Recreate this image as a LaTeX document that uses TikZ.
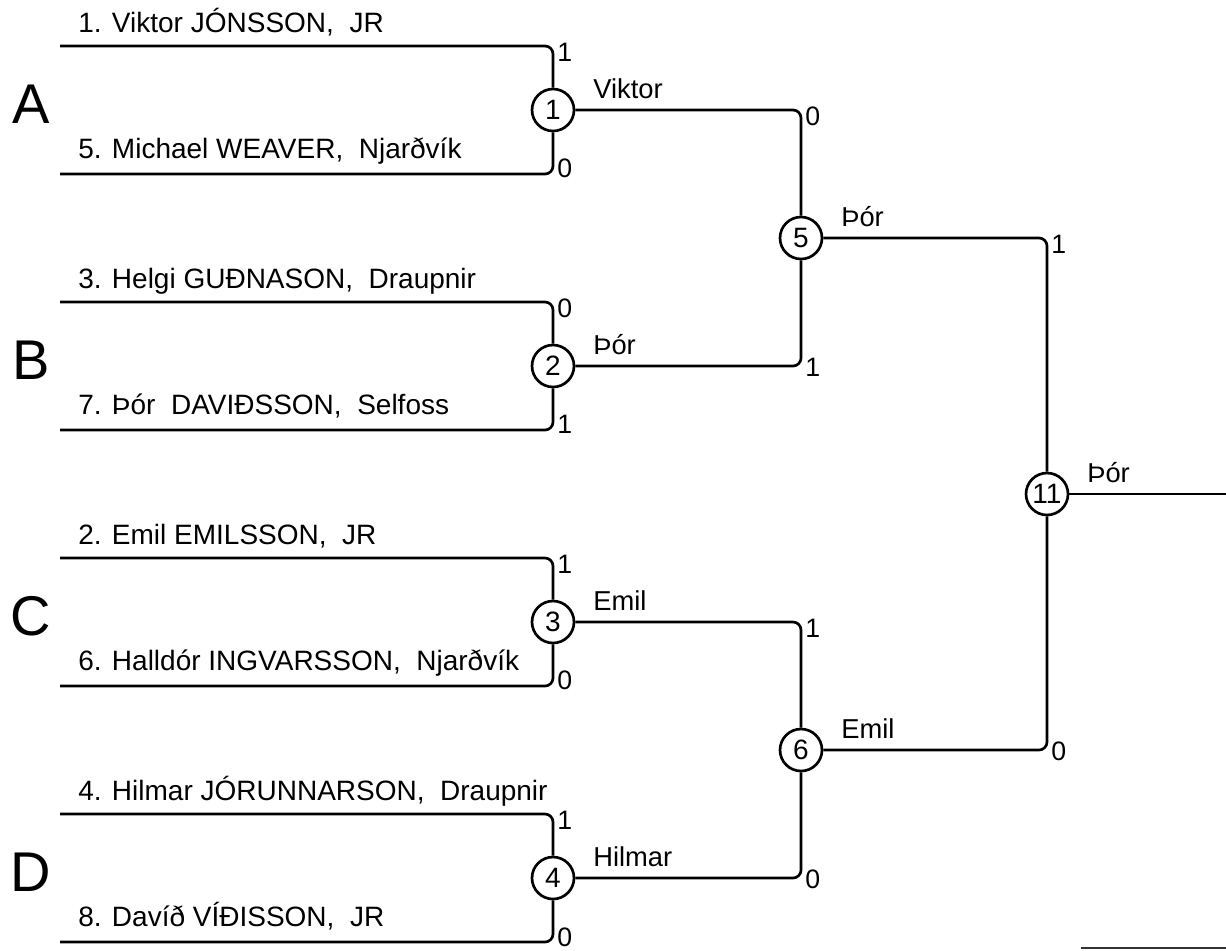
\documentclass[tikz,border=0pt]{standalone}
\usepackage{fontspec}
\setmainfont{Liberation Sans}
\begin{document}
\begin{tikzpicture}[x=0.75pt,y=-0.75pt,
  ln/.style={line width=2pt, rounded corners=6pt},
  mt/.style={circle, draw, line width=2pt, minimum size=31.5pt, inner sep=0pt, fill=white, font=\fontsize{21}{21}\selectfont},
  nm/.style={anchor=base west, inner sep=0pt, font=\fontsize{21}{21}\selectfont},
  sc/.style={anchor=west, inner sep=0pt, font=\fontsize{20}{20}\selectfont},
  wn/.style={anchor=base west, inner sep=0pt, font=\fontsize{20.5}{20.5}\selectfont},
  grp/.style={anchor=center, inner sep=0pt, font=\fontsize{42}{42}\selectfont}]
\useasboundingbox (0,0) rectangle (1226,950);
% match circles
\node[mt] (m1) at (553,110) {1};
\node[mt] (m2) at (553,366) {2};
\node[mt] (m3) at (553,622) {3};
\node[mt] (m4) at (553,878) {4};
\node[mt] (m5) at (801,238) {5};
\node[mt] (m6) at (801,750) {6};
\node[mt] (m11) at (1047,494) {11};
% line starts
\coordinate (s1t) at (60,46);  \coordinate (s1b) at (60,174);
\coordinate (s2t) at (60,302); \coordinate (s2b) at (60,430);
\coordinate (s3t) at (60,558); \coordinate (s3b) at (60,686);
\coordinate (s4t) at (60,814); \coordinate (s4b) at (60,942);
\coordinate (fin) at (1226,494);
% connectors
\draw[ln] (s1t) -| (m1); \draw[ln] (s1b) -| (m1);
\draw[ln] (s2t) -| (m2); \draw[ln] (s2b) -| (m2);
\draw[ln] (s3t) -| (m3); \draw[ln] (s3b) -| (m3);
\draw[ln] (s4t) -| (m4); \draw[ln] (s4b) -| (m4);
\draw[ln] (m1) -| (m5); \draw[ln] (m2) -| (m5);
\draw[ln] (m3) -| (m6); \draw[ln] (m4) -| (m6);
\draw[ln] (m5) -| (m11); \draw[ln] (m6) -| (m11);
\draw[ln] (m11) -- (fin);
% group letters
\node[grp] (gA) at (31,104) {A};
\node[grp] (gB) at (31,360) {B};
\node[grp] (gC) at (31,616) {C};
\node[grp] (gD) at (31,872) {D};
% names
\node[nm] (n1) at (78,32) {1. Viktor JÓNSSON,~ JR};
\node[nm] (n5) at (78,158) {5. Michael WEAVER,~ Njarðvík};
\node[nm] (n3) at (78,288) {3. Helgi GUÐNASON,~ Draupnir};
\node[nm] (n7) at (78,414) {7. Þór~ DAVIÐSSON,~ Selfoss};
\node[nm] (n2) at (78,544) {2. Emil EMILSSON,~ JR};
\node[nm] (n6) at (78,670) {6. Halldór INGVARSSON,~ Njarðvík};
\node[nm] (n4) at (78,800) {4. Hilmar JÓRUNNARSON,~ Draupnir};
\node[nm] (n8) at (78,926) {8. Davíð VÍÐISSON,~ JR};
% scores
\node[sc] (c1t) at (557,52) {1};  \node[sc] (c1b) at (557,168) {0};
\node[sc] (c2t) at (557,308) {0}; \node[sc] (c2b) at (557,424) {1};
\node[sc] (c3t) at (557,564) {1}; \node[sc] (c3b) at (557,680) {0};
\node[sc] (c4t) at (557,820) {1}; \node[sc] (c4b) at (557,937) {0};
\node[sc] (c5t) at (805,116) {0}; \node[sc] (c5b) at (805,367) {1};
\node[sc] (c6t) at (805,628) {1}; \node[sc] (c6b) at (805,879) {0};
\node[sc] (c11t) at (1051,244) {1}; \node[sc] (c11b) at (1051,751) {0};
% winners
\node[wn] (w1) at (593,98) {Viktor};
\node[wn] (w2) at (593,354) {Þór};
\node[wn] (w3) at (593,610) {Emil};
\node[wn] (w4) at (593,866) {Hilmar};
\node[wn] (w5) at (841,226) {Þór};
\node[wn] (w6) at (841,738) {Emil};
\node[wn] (w11) at (1087,482) {Þór};
% stray bottom line
\coordinate (g1) at (1081,948); \coordinate (g2) at (1226,948);
\draw[draw=black!80, line width=0.9pt] (g1) -- (g2);
\end{tikzpicture}
\end{document}
